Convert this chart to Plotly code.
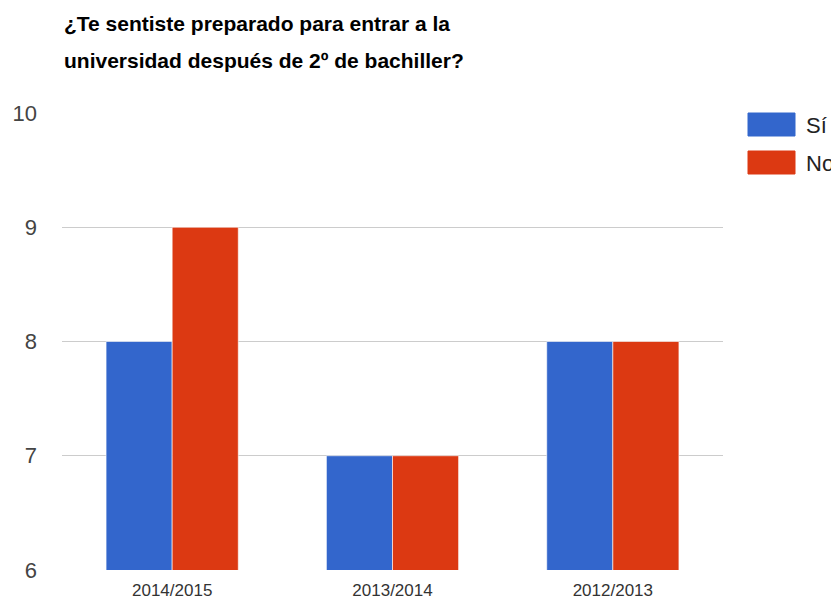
import plotly.graph_objects as go

years = ['2014/2015', '2013/2014', '2012/2013']
si = [8, 7, 8]
no = [9, 7, 8]
series_names = ['Sí', 'No']
colors = ['#3366cc', '#dc3912']
y_ticks = [6, 7, 8, 9, 10]
title_lines = ['¿Te sentiste preparado para entrar a la',
               'universidad después de 2º de bachiller?']

FONT = 'Liberation Sans, Arial, sans-serif'
W, H = 839, 609
L, R, T, B = 54, 124, 105, 47
PW, PH = W - L - R, H - T - B


def px(x):
    return (x - L) / PW


def py(y):
    return (H - B - y) / PH


fig = go.Figure()
for name, vals, col in zip(series_names, [si, no], colors):
    fig.add_trace(go.Bar(
        x=years, y=vals, name=name,
        marker=dict(color=col, line=dict(color='rgba(255,255,255,0.6)', width=1)),
        showlegend=False,
    ))

# hand-made legend with the wide swatches of the original
for i, (name, col) in enumerate(zip(series_names, colors)):
    top = 105 + i * 38
    fig.add_shape(type='rect', xref='paper', yref='paper',
                  x0=px(740), x1=px(787), y0=py(top + 23), y1=py(top),
                  fillcolor=col, line=dict(color=col, width=1))
    fig.add_annotation(text=name, xref='paper', yref='paper',
                       x=px(796), y=py(top + 12),
                       xanchor='left', yanchor='middle', showarrow=False,
                       font=dict(family=FONT, size=22, color='#222222'))

# title, two lines set by hand for the wide line spacing
for line, yc in zip(title_lines, [15, 53]):
    fig.add_annotation(text='<b>' + line + '</b>', xref='paper', yref='paper',
                       x=px(54), y=py(yc), xanchor='left', yanchor='middle',
                       showarrow=False,
                       font=dict(family=FONT, size=21, color='#000000'))

fig.update_layout(
    width=W, height=H,
    margin=dict(l=L, r=R, t=T, b=B),
    paper_bgcolor='white', plot_bgcolor='white',
    barmode='group', bargap=0.4, bargroupgap=0.0,
    font=dict(family=FONT, size=16, color='#444444'),
)
fig.update_xaxes(showgrid=False, showline=False, ticks='', automargin=False,
                 ticklabelstandoff=8,
                 tickfont=dict(size=17, color='#333333'))
fig.update_yaxes(range=[6, 10], tickvals=y_ticks, showgrid=True, gridcolor='#cccccc',
                 gridwidth=1, zeroline=False, showline=False, ticks='',
                 ticklabelstandoff=24, automargin=False,
                 tickfont=dict(size=22, color='#444444'))

fig.write_html('out.html')
